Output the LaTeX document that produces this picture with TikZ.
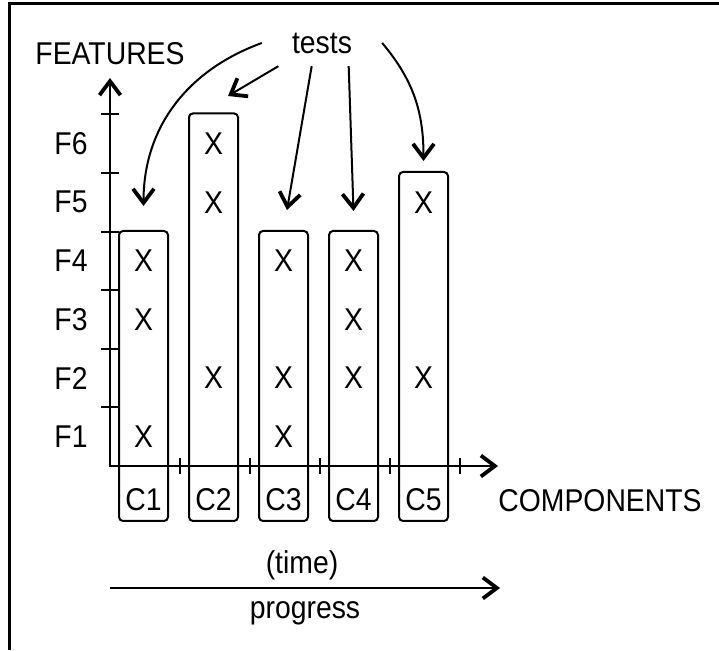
\documentclass[tikz,border=0pt]{standalone}
\usepackage{fontspec}
\setmainfont[FakeStretch=0.9]{Liberation Sans}
\usetikzlibrary{arrows.meta}

\begin{document}
\begin{tikzpicture}[x=1pt, y=1pt,
    every node/.style={font=\fontsize{31.5}{36}\selectfont},
    >={Straight Barb[length=14pt,width=21pt,line width=3.8pt]},
    axis/.style={line width=2pt},
    conn/.style={line width=2pt},
    colbox/.style={draw, line width=2pt, rounded corners=4pt, minimum width=49pt, inner sep=0pt, anchor=south}]
    \useasboundingbox (0,0) rectangle (719,650);
    \draw [line width=3pt] (9,0) -- (9,646) -- (719,646);

    % axes
    \coordinate (O) at (110,184);
    \coordinate (Ytip) at (110,572);
    \coordinate (Xtip) at (498,184);
    \draw [<->, axis] (Ytip) -- (O) -- (Xtip);
    \draw [axis] (101,242.6) -- (119,242.6);
    \draw [axis] (101,301.2) -- (119,301.2);
    \draw [axis] (101,359.8) -- (119,359.8);
    \draw [axis] (101,418.4) -- (119,418.4);
    \draw [axis] (101,477.0) -- (119,477.0);
    \draw [axis] (101,535.6) -- (119,535.6);
    \draw [axis] (180,176) -- (180,192);
    \draw [axis] (250,176) -- (250,192);
    \draw [axis] (320,176) -- (320,192);
    \draw [axis] (390,176) -- (390,192);
    \draw [axis] (460,176) -- (460,192);
    \node (feat) at (110,596) {FEATURES};
    \node (comp) at (600,149) {COMPONENTS};

    % features
    \node (F1) at (71,213.3) {F1};
    \node (F2) at (71,271.9) {F2};
    \node (F3) at (71,330.5) {F3};
    \node (F4) at (71,389.1) {F4};
    \node (F5) at (71,447.7) {F5};
    \node (F6) at (71,506.3) {F6};

    % components
    \node [colbox, minimum height=290pt] (C1box) at (143.5,128) {};
    \node [colbox, minimum height=407.6pt] (C2box) at (213.5,128) {};
    \node [colbox, minimum height=290pt] (C3box) at (283.5,128) {};
    \node [colbox, minimum height=290pt] (C4box) at (353.5,128) {};
    \node [colbox, minimum height=349pt] (C5box) at (423.5,128) {};
    \node (C1) at (143.5,150) {C1};
    \node (C2) at (213.5,150) {C2};
    \node (C3) at (283.5,150) {C3};
    \node (C4) at (353.5,150) {C4};
    \node (C5) at (423.5,150) {C5};

    % marks
    \node (C1F1) at (143.5,213.3) {X};
    \node (C1F3) at (143.5,330.5) {X};
    \node (C1F4) at (143.5,389.1) {X};
    \node (C2F2) at (213.5,271.9) {X};
    \node (C2F5) at (213.5,447.7) {X};
    \node (C2F6) at (213.5,506.3) {X};
    \node (C3F1) at (283.5,213.3) {X};
    \node (C3F2) at (283.5,271.9) {X};
    \node (C3F4) at (283.5,389.1) {X};
    \node (C4F2) at (353.5,271.9) {X};
    \node (C4F3) at (353.5,330.5) {X};
    \node (C4F4) at (353.5,389.1) {X};
    \node (C5F2) at (423.5,271.9) {X};
    \node (C5F5) at (423.5,447.7) {X};

    % tests
    \node [minimum width=120pt, minimum height=46pt] (tests) at (322,607) {tests};
    \draw [->, conn] (tests.west) to [out=200, in=90] ([yshift=24pt]C1box.north);
    \draw [->, conn] (tests.208) to ([shift={(14.5pt,16.4pt)}]C2box.north);
    \draw [->, conn] (tests.246) to ([shift={(3.5pt,20pt)}]C3box.north);
    \draw [->, conn] (tests.319) to ([yshift=19pt]C4box.north);
    \draw [->, conn] (tests.east) to [out=-50, in=90] ([yshift=10pt]C5box.north);

    % progress
    \coordinate (P0) at (110,62);
    \coordinate (P1) at (500,62);
    \draw [->, conn] (P0) to (P1);
    \node (time) at (302,84.5) {(time)};
    \node (progress) at (305,36.5) {progress};
  \end{tikzpicture}
\end{document}
